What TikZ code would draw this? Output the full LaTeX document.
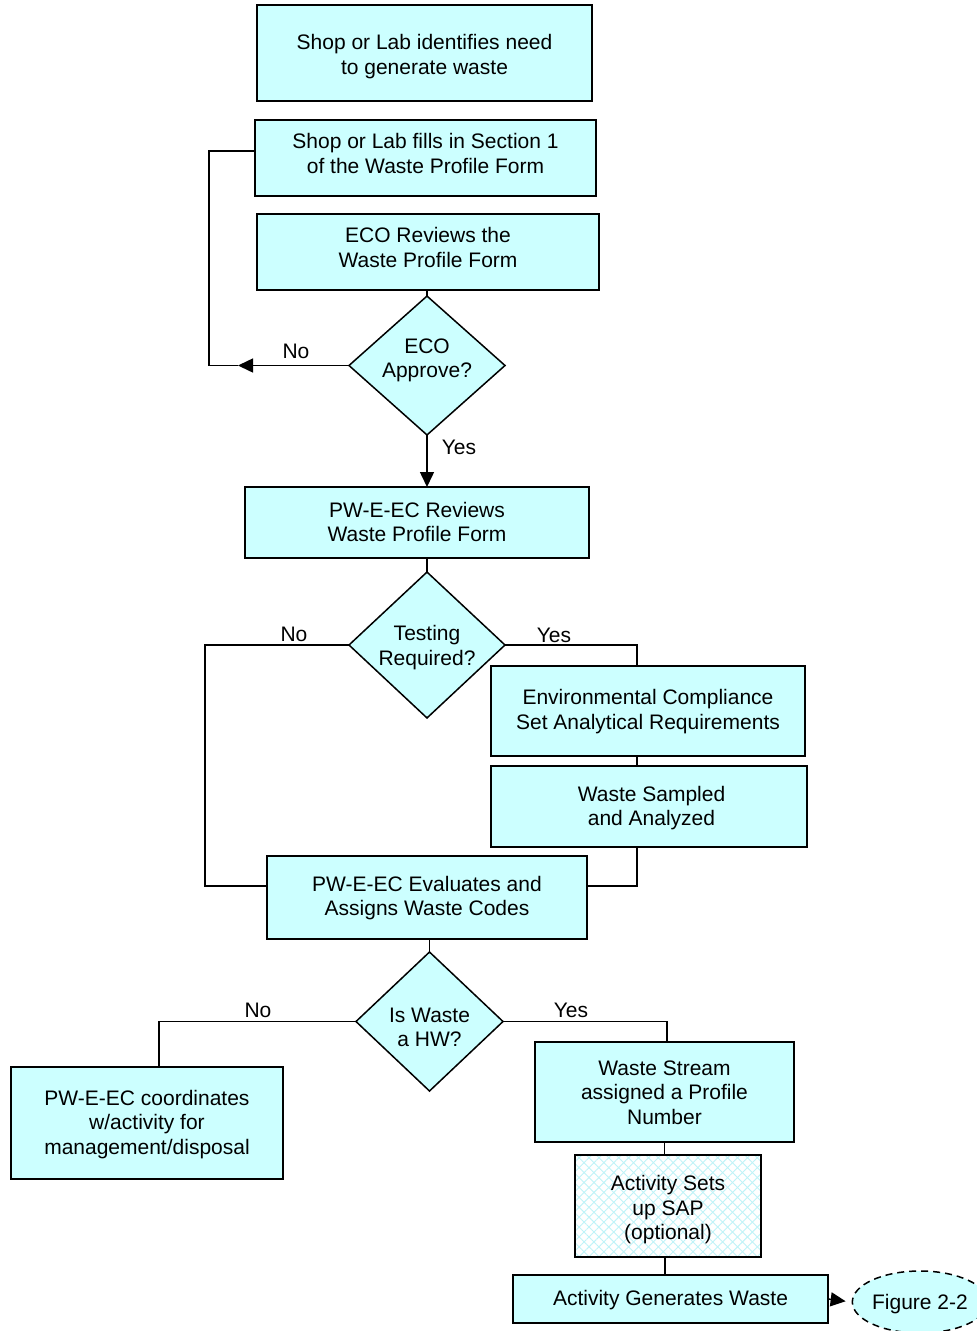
\documentclass[tikz,border=0pt]{standalone}
\usepackage{fontspec}
\setmainfont{Liberation Sans}
\usetikzlibrary{shapes.geometric,arrows.meta,patterns.meta}
\definecolor{cyanfill}{HTML}{CCFFFF}
\definecolor{hatchcol}{HTML}{BFF3F8}
\newcommand\figfont{\fontsize{21}{24.5}\selectfont}
\newcommand\tx[2][0pt]{\raisebox{#1}[\height][\depth]{\begin{tabular}{@{}c@{}}#2\end{tabular}}}
\tikzset{
  box/.style={draw, line width=1.6pt, fill=cyanfill, align=center, inner sep=0pt, outer sep=0pt, font=\figfont},
  sz/.style 2 args={minimum width=#1pt, minimum height=#2pt},
  dia/.style={diamond, draw, line width=1.5pt, fill=cyanfill, align=center, inner sep=0pt, outer sep=0pt, font=\figfont},
  conn/.style={line width=1.5pt},
  arr/.style={line width=1.5pt, -{Triangle[length=15pt,width=14pt]}},
  lbl/.style={font=\figfont, inner sep=0pt},
  hatch/.style={path picture={
     \fill[pattern={Lines[angle=45,distance=7pt,line width=0.9pt]}, pattern color=hatchcol]
        (path picture bounding box.south west) rectangle (path picture bounding box.north east);
     \fill[pattern={Lines[angle=-45,distance=7pt,line width=0.9pt]}, pattern color=hatchcol]
        (path picture bounding box.south west) rectangle (path picture bounding box.north east);}}
}
\begin{document}
\begin{tikzpicture}[x=1pt,y=-1pt]
\useasboundingbox (0,0) rectangle (977,1331);
% nodes
\node[box, sz={335}{96}] (b1) at (424.5,53) {\tx[-4pt]{Shop or Lab identifies need\\to generate waste}};
\node[box, sz={341}{76}] (b2) at (425.5,158) {\tx[2pt]{Shop or Lab fills in Section 1\\of the Waste Profile Form}};
\node[box, sz={342}{76}] (b3) at (428,252) {\tx[2pt]{ECO Reviews the\\Waste Profile Form}};
\node[dia, minimum width=156pt, minimum height=129pt] (d1) at (427,365.5) {\tx[5pt]{ECO\\Approve?}};
\node[box, sz={344}{71}] (b4) at (417,522.5) {\tx[-2pt]{PW-E-EC Reviews\\Waste Profile Form}};
\node[dia, minimum width=156pt, minimum height=138pt] (d2) at (427,645) {\tx[-3pt]{Testing\\Required?}};
\node[box, sz={314}{90}] (b5) at (648,711) {\tx[-1pt]{Environmental Compliance\\Set Analytical Requirements}};
\node[box, sz={316}{81}] (b6) at (649,806.5) {\hspace*{5pt}\tx[-2pt]{Waste Sampled\\and Analyzed}};
\node[box, sz={320}{83}] (b7) at (427,897.5) {\tx[-1pt]{PW-E-EC Evaluates and\\Assigns Waste Codes}};
\node[dia, minimum width=147pt, minimum height=139pt] (d3) at (429.5,1021.5) {\tx[-8pt]{Is Waste\\a HW?}};
\node[box, sz={272}{112}] (b8) at (147,1123) {\tx[-2pt]{PW-E-EC coordinates\\w/activity for\\management/disposal}};
\node[box, sz={259}{100}] (b9) at (664.5,1092) {\tx[-3pt]{Waste Stream\\assigned a Profile\\Number}};
\node[box, sz={186}{102}, fill=white, hatch] (b10) at (668,1206) {\tx[-4.5pt]{Activity Sets\\up SAP\\(optional)}};
\node[box, sz={315}{48}] (b11) at (670.5,1299) {\tx[-2pt]{Activity Generates Waste}};
\node[ellipse, draw, dash pattern=on 7pt off 5pt, line width=1.5pt, fill=cyanfill, minimum width=126pt, minimum height=62pt, inner sep=0pt, font=\figfont] (e1) at (920,1302) {\tx[-3pt]{Figure 2-2}};
% labels
\node[lbl] (l1) at (296,351) {No};
\node[lbl] (l2) at (459,447) {Yes};
\node[lbl] (l3) at (294,634) {No};
\node[lbl] (l4) at (554,635) {Yes};
\node[lbl] (l5) at (258,1010) {No};
\node[lbl] (l6) at (571,1010) {Yes};
% connectors
\draw[conn] (d1.north |- b3.south) -- (d1.north);
\coordinate (nA) at (238,365.5);
\coordinate (nL) at (209,365.5);
\draw[arr] (d1.west) -- (nA);
\draw[conn] (nA) -- (nL) |- ([yshift=7pt]b2.west);
\draw[arr] (d1.south) -- (d1.south |- b4.north);
\draw[conn] (d2.north |- b4.south) -- (d2.north);
\coordinate (c2) at (205,645);
\draw[conn] (d2.west) -- (c2) |- ([yshift=11.5pt]b7.west);
\draw[conn] (d2.east) -| ([xshift=-11pt]b5.north);
\draw[conn] ([xshift=-11pt]b5.south) -- ([xshift=-11pt]b5.south |- b6.north);
\draw[conn] ([xshift=-12pt]b6.south) |- ([yshift=11.5pt]b7.east);
\draw[conn] (d3.north |- b7.south) -- (d3.north);
\draw[conn] (d3.west) -| ([xshift=12pt]b8.north);
\draw[conn] (d3.east) -| ([xshift=2.5pt]b9.north);
\draw[conn] (b9.south) -- (b9.south |- b10.north);
\draw[conn] ([xshift=-3pt]b10.south) -- ([xshift=-3pt]b10.south |- b11.north);
\draw[arr, shorten >=6pt] (b11.east) -- (e1.west);
\end{tikzpicture}
\end{document}
